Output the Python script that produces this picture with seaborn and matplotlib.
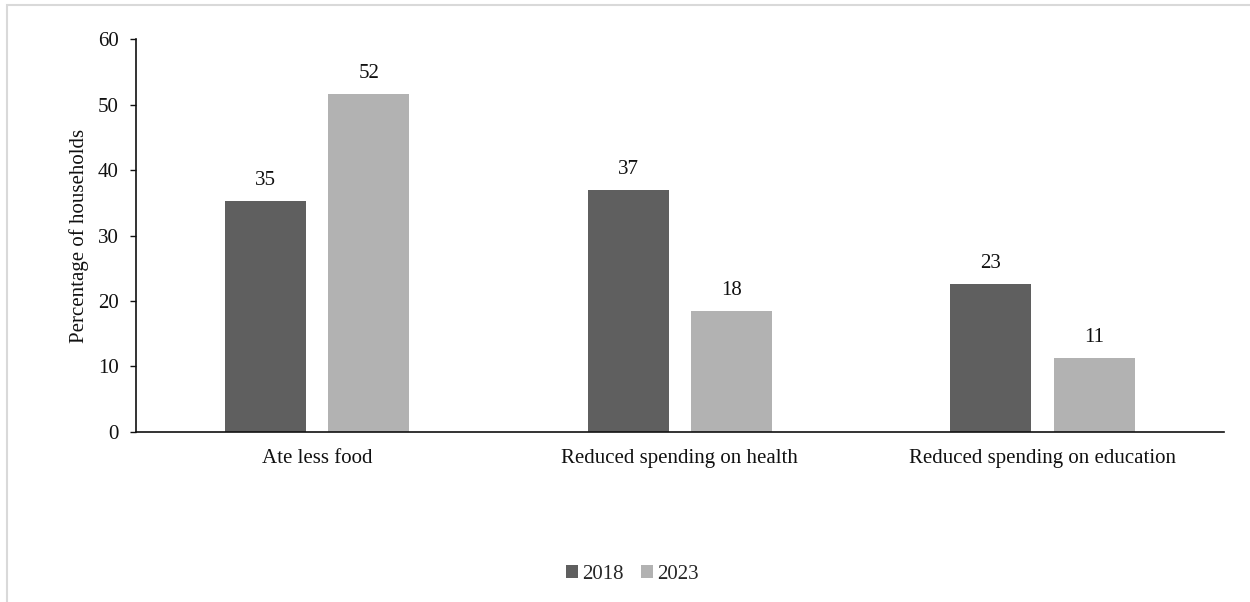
import matplotlib
matplotlib.use("Agg")
import matplotlib.pyplot as plt
from matplotlib.patches import Rectangle, Patch
import seaborn as sns
import pandas as pd

# Coping strategies reported by households, by survey year
categories = ["Ate less food", "Reduced spending on health", "Reduced spending on education"]
years = ["2018", "2023"]
values_2018 = [35.2, 36.9, 22.6]
values_2023 = [51.6, 18.4, 11.3]
y_ticks = [0, 10, 20, 30, 40, 50, 60]
y_label = "Percentage of households"

df = pd.DataFrame({
    "strategy": categories * 2,
    "year": [years[0]] * len(categories) + [years[1]] * len(categories),
    "pct": values_2018 + values_2023,
})

sns.set_theme(style="white")
plt.rcParams["font.family"] = ["Liberation Serif", "DejaVu Serif"]

FS = 15
palette = {"2018": "#5f5f5f", "2023": "#b2b2b2"}

fig = plt.figure(figsize=(12.5, 6.02), dpi=100)
ax = fig.add_axes([0.1088, 0.2824, 0.979 - 0.1088, 0.9352 - 0.2824])

sns.barplot(data=df, x="strategy", y="pct", hue="year", order=categories,
            hue_order=years, palette=palette, width=0.57, gap=0.216,
            saturation=1, edgecolor="none", legend=False, ax=ax)

for cont in ax.containers:
    ax.bar_label(cont, labels=[f"{v:.0f}" for v in cont.datavalues],
                 padding=8, fontsize=FS, color="#111111")

ax.set_xlim(-0.5, 2.5)
ax.set_ylim(0, 60)
ax.set_yticks(y_ticks)
ax.set_xlabel("")
ax.set_ylabel(y_label, fontsize=FS, labelpad=6, color="#111111")

for side in ("top", "right"):
    ax.spines[side].set_visible(False)
for side in ("left", "bottom"):
    ax.spines[side].set_color("#111111")
    ax.spines[side].set_linewidth(1.2)

ax.tick_params(axis="y", which="major", direction="out", length=4.5, width=1,
               color="#111111", left=True, pad=8, labelsize=FS, labelcolor="#111111")
ax.tick_params(axis="x", length=0, pad=12.5, labelsize=FS, labelcolor="#111111")

handles = [Patch(facecolor=palette[y], edgecolor="none") for y in years]
fig.legend(handles, years, loc="center", bbox_to_anchor=(0.506, 0.046), ncol=2,
           frameon=False, fontsize=FS, handlelength=0.6, handleheight=0.6,
           handletextpad=0.2, columnspacing=0.8)

# Light frame around the chart area
fig.patches.append(Rectangle((6.5 / 1250, -0.05), 1.1, (602 - 5) / 602 + 0.05,
                             transform=fig.transFigure, fill=False,
                             edgecolor="#d9d9d9", linewidth=1.5, zorder=0))

fig.savefig("out.png", dpi=100, facecolor="white")
